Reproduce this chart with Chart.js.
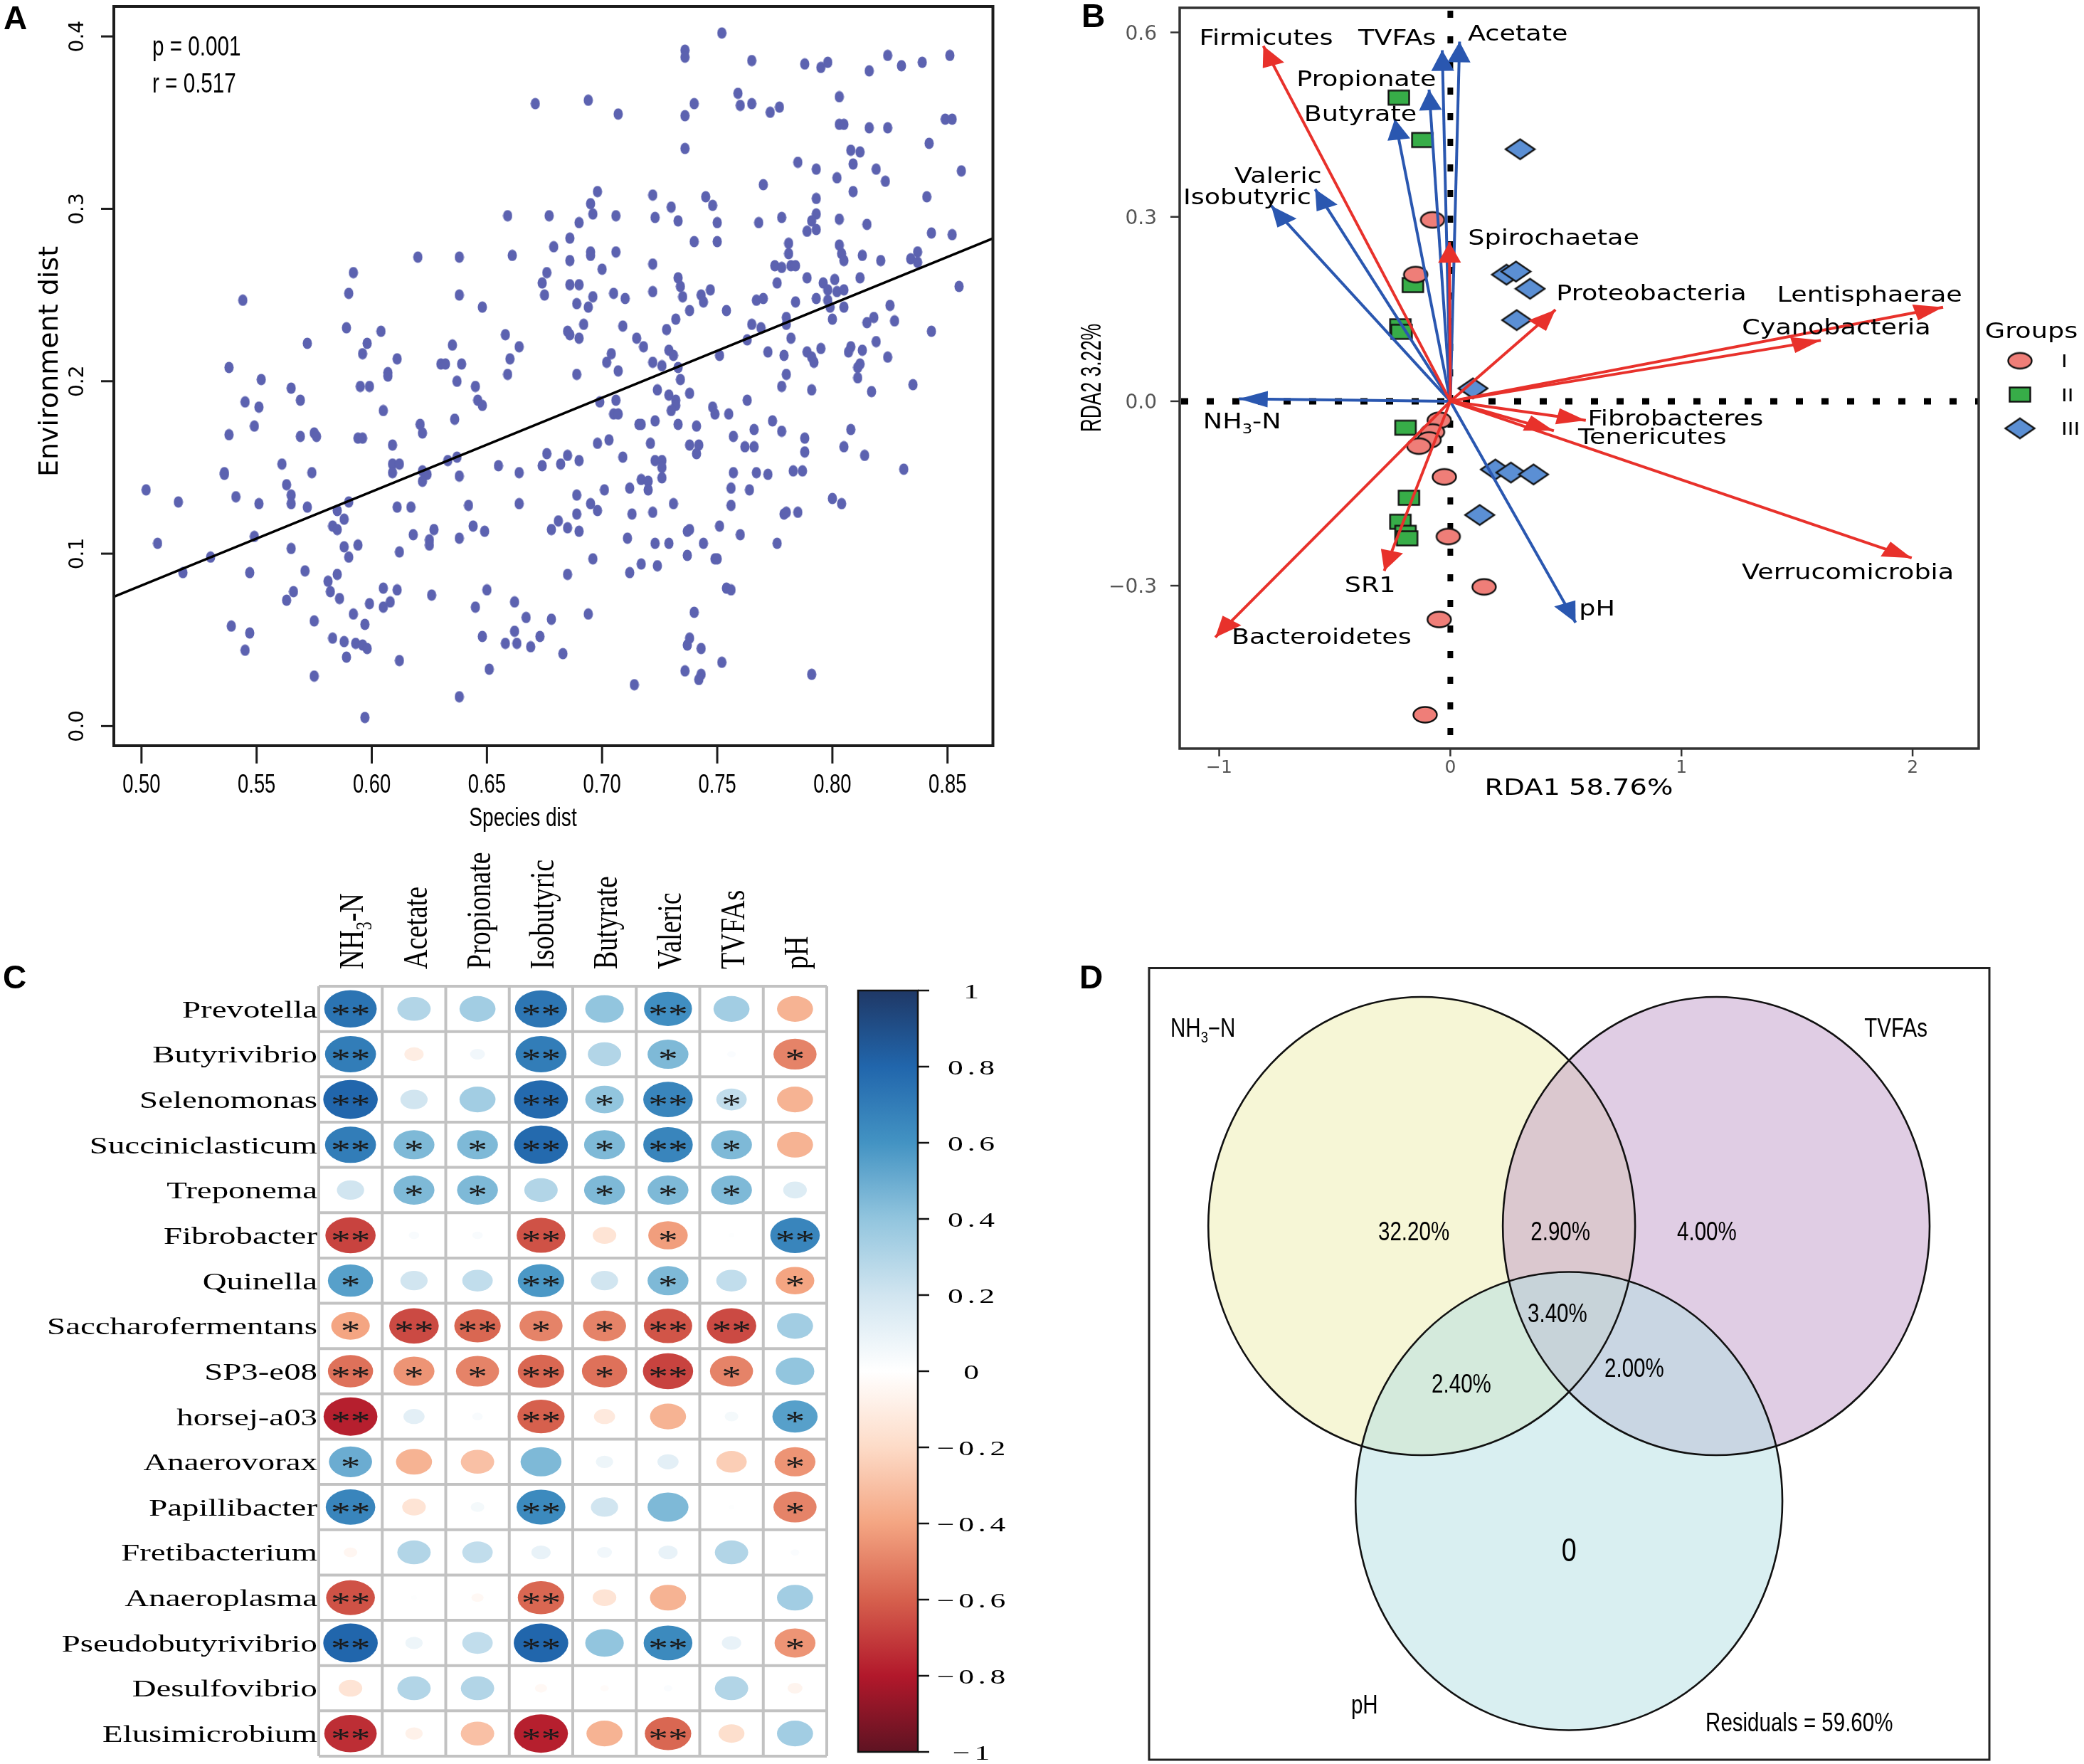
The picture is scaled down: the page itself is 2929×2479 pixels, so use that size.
<!DOCTYPE html>
<html>
<head>
<meta charset="utf-8">
<title>Species, environment and RDA panels</title>
<script src="https://cdn.jsdelivr.net/npm/chart.js@4.4.1/dist/chart.umd.min.js"></script>
<style>
  html, body { margin: 0; padding: 0; background: #fff; }
  #page { position: relative; width: 2929px; height: 2479px; overflow: hidden; background: #fff; }
  #page canvas { position: absolute; }
  .tag { position: absolute; font: bold 46px 'Liberation Sans', Arial, sans-serif; line-height: 46px; color: #000; }
</style>
</head>
<body>
<div id="page">
  <canvas id="panelA" width="1450" height="1190" style="left:0;top:0"></canvas>
  <canvas id="panelB" width="1479" height="1190" style="left:1450px;top:0"></canvas>
  <canvas id="panelC" width="1450" height="1289" style="left:0;top:1190px"></canvas>
  <canvas id="panelD" width="1479" height="1289" style="left:1450px;top:1190px"></canvas>
  <div class="tag" style="left:5px;top:2px">A</div>
  <div class="tag" style="left:1520px;top:-1px">B</div>
  <div class="tag" style="left:4px;top:1350px">C</div>
  <div class="tag" style="left:1517px;top:1350px">D</div>
</div>
<script>
// ---- panel A: species distance vs environment distance ----
const speciesDist = [
  0.671,0.659,0.661,0.620,0.638,0.592,0.590,0.638,0.544,0.648,0.589,0.604,0.658,0.572,0.598,0.635,0.664,0.596,0.611,0.660,
  0.538,0.630,0.632,0.639,0.607,0.607,0.659,0.552,0.637,
  0.752,0.736,0.736,0.765,0.788,0.795,0.798,0.816,0.824,0.830,0.839,0.851,
  0.694,0.707,0.759,0.760,0.765,0.736,0.740,0.773,0.777,0.803,0.803,0.805,0.816,0.824,0.849,0.852,
  0.736,0.842,0.808,0.812,0.785,0.793,0.809,0.819,0.802,0.823,0.856,
  0.770,0.698,0.722,0.745,0.695,0.696,0.677,0.706,0.730,0.748,0.723,0.733,0.750,0.768,0.778,0.793,0.793,0.791,0.789,0.793,
  0.803,0.809,0.815,0.841,0.843,0.852,0.690,
  0.686,0.679,0.695,0.695,0.706,0.686,0.700,0.722,0.740,0.750,0.781,0.781,0.775,0.778,0.782,0.784,0.803,0.804,0.805,0.813,
  0.821,0.834,0.837,0.837,
  0.676,0.674,0.675,0.686,0.690,0.696,0.705,0.710,0.689,0.694,0.722,0.733,0.734,0.735,0.743,0.744,0.747,0.754,0.738,0.767,
  0.770,0.776,0.784,0.789,0.793,0.796,0.801,0.798,0.802,0.805,0.798,0.799,0.805,0.812,0.825,0.855,
  0.685,0.686,0.690,0.692,0.709,0.715,0.718,0.728,0.732,0.729,0.731,0.704,0.702,0.707,0.722,0.726,0.733,0.751,0.763,0.765,
  0.769,0.772,0.779,0.780,0.780,0.782,0.789,0.791,0.792,0.795,0.800,0.808,0.807,0.813,0.815,0.818,0.819,0.824,0.827,0.843,
  0.812,0.811,0.811,0.689,0.734,0.780,
  0.724,0.729,0.738,0.732,0.732,0.730,0.733,0.741,0.748,0.749,0.755,0.763,0.778,0.791,0.817,0.835,0.699,0.706,0.705,0.707,
  0.716,0.717,0.723,0.774,0.778,0.766,0.808,0.757,0.788,0.788,0.762,0.766,0.805,0.814,0.698,0.703,0.721,0.709,0.723,0.726,
  0.726,0.738,0.742,0.741,0.676,0.685,0.682,0.690,0.674,0.831,0.757,0.767,0.772,0.783,0.787,0.726,0.717,0.720,0.720,0.712,
  0.701,0.756,0.764,0.689,0.695,0.698,0.689,0.731,0.722,0.713,0.756,0.800,0.804,0.779,0.780,0.785,0.681,0.678,0.685,0.690,
  0.711,0.723,0.729,0.738,0.737,0.751,0.744,0.760,0.776,0.696,0.717,0.724,0.737,0.749,0.750,0.685,0.712,0.754,0.756,0.694,
  0.678,0.740,0.673,0.738,0.737,0.743,0.683,0.752,0.736,0.743,0.742,0.714,0.791,
  0.565,0.595,0.599,0.645,0.545,0.551,0.569,0.605,0.636,0.646,0.648,0.549,0.538,0.569,0.575,0.576,0.594,0.596,0.609,0.621,
  0.622,0.637,0.633,0.609,0.612,0.609,0.622,0.624,0.622,0.638,0.561,0.574,0.655,0.664,0.536,0.536,0.563,0.565,0.565,0.502,
  0.516,0.541,0.551,0.572,0.585,0.590,0.588,0.611,0.617,0.642,0.664,0.583,0.585,0.618,0.627,0.625,0.625,0.644,0.649,0.638,
  0.594,0.588,0.590,0.612,0.549,0.530,0.565,0.507,0.518,0.547,0.571,0.585,0.581,0.582,0.586,0.566,0.563,0.605,0.611,0.608,
  0.605,0.599,0.626,0.650,0.645,0.662,0.592,0.597,0.575,0.539,0.547,0.648,0.662,0.658,0.663,0.667,0.669,0.583,0.588,0.593,
  0.596,0.598,0.545,0.589,0.612,0.651,0.575,0.638,0.597
];
const envDist = [
  0.361,0.296,0.273,0.272,0.272,0.263,0.251,0.250,0.247,0.243,0.231,0.229,0.227,0.222,0.222,0.221,0.220,0.216,0.213,0.213,
  0.208,0.210,0.210,0.210,0.205,0.203,0.204,0.201,0.200,
  0.402,0.392,0.388,0.386,0.384,0.382,0.385,0.380,0.389,0.383,0.385,0.389,
  0.363,0.355,0.367,0.360,0.361,0.354,0.361,0.356,0.359,0.365,0.349,0.349,0.347,0.347,0.352,0.352,
  0.335,0.338,0.334,0.333,0.327,0.323,0.326,0.323,0.318,0.316,0.322,
  0.314,0.310,0.308,0.307,0.303,0.297,0.296,0.296,0.301,0.302,0.295,0.293,0.292,0.292,0.295,0.306,0.297,0.293,0.287,0.288,
  0.294,0.310,0.291,0.307,0.286,0.285,0.292,
  0.283,0.278,0.275,0.273,0.275,0.270,0.265,0.268,0.281,0.281,0.280,0.274,0.267,0.266,0.267,0.267,0.279,0.274,0.270,0.273,
  0.270,0.271,0.275,0.269,
  0.263,0.257,0.250,0.256,0.256,0.249,0.251,0.248,0.245,0.243,0.252,0.260,0.255,0.249,0.250,0.246,0.253,0.241,0.241,0.247,
  0.248,0.257,0.246,0.260,0.248,0.257,0.259,0.253,0.252,0.253,0.247,0.243,0.243,0.260,0.244,0.255,
  0.229,0.227,0.225,0.233,0.232,0.225,0.220,0.230,0.236,0.218,0.215,0.216,0.211,0.206,0.211,0.209,0.208,0.215,0.224,0.233,
  0.231,0.217,0.215,0.237,0.233,0.225,0.217,0.214,0.211,0.219,0.236,0.220,0.217,0.218,0.234,0.237,0.223,0.214,0.235,0.229,
  0.210,0.208,0.202,0.204,0.201,0.204,
  0.195,0.192,0.193,0.189,0.186,0.183,0.175,0.174,0.185,0.181,0.181,0.189,0.197,0.195,0.194,0.198,0.188,0.189,0.181,0.181,
  0.175,0.175,0.177,0.177,0.171,0.172,0.172,0.168,0.167,0.159,0.162,0.162,0.162,0.157,0.164,0.166,0.164,0.156,0.154,0.154,
  0.150,0.163,0.163,0.158,0.158,0.157,0.152,0.154,0.151,0.149,0.147,0.147,0.146,0.148,0.148,0.144,0.143,0.142,0.137,0.138,
  0.137,0.138,0.137,0.134,0.129,0.125,0.123,0.129,0.124,0.123,0.128,0.132,0.129,0.123,0.124,0.124,0.119,0.114,0.115,0.113,
  0.109,0.106,0.106,0.114,0.113,0.116,0.106,0.111,0.106,0.097,0.094,0.093,0.099,0.097,0.097,0.088,0.089,0.080,0.079,0.065,
  0.062,0.066,0.052,0.051,0.047,0.045,0.042,0.037,0.032,0.030,0.027,0.024,0.030,
  0.196,0.197,0.197,0.197,0.188,0.185,0.189,0.183,0.178,0.189,0.186,0.174,0.169,0.168,0.170,0.168,0.167,0.167,0.163,0.175,
  0.170,0.156,0.154,0.152,0.152,0.147,0.148,0.146,0.142,0.145,0.152,0.147,0.151,0.147,0.147,0.146,0.140,0.134,0.129,0.137,
  0.130,0.133,0.129,0.127,0.125,0.130,0.120,0.127,0.127,0.128,0.129,0.116,0.114,0.111,0.114,0.108,0.105,0.116,0.113,0.109,
  0.105,0.104,0.098,0.101,0.110,0.098,0.103,0.106,0.089,0.089,0.090,0.088,0.084,0.078,0.074,0.078,0.073,0.080,0.079,0.072,
  0.069,0.071,0.076,0.079,0.069,0.072,0.065,0.059,0.061,0.058,0.054,0.052,0.055,0.048,0.048,0.063,0.046,0.051,0.049,0.048,
  0.047,0.045,0.044,0.040,0.038,0.033,0.029,0.017,0.005
];
const fitX = [0.488, 0.870];
const fitY = [0.075, 0.283];
const speciesTicks = [0.50, 0.55, 0.60, 0.65, 0.70, 0.75, 0.80, 0.85];
const envTicks = [0.0, 0.1, 0.2, 0.3, 0.4];
const mantelP = '0.001';
const mantelR = '0.517';

// ---- panel B: RDA biplot ----
const groupI_RDA1 = [-0.077, -0.150, -0.048, -0.077, -0.092, -0.136, -0.026, -0.009, 0.146, -0.048, -0.109];
const groupI_RDA2 = [0.295, 0.206, -0.031, -0.050, -0.063, -0.073, -0.123, -0.220, -0.302, -0.355, -0.510];
const groupII_RDA1 = [-0.223, -0.121, -0.162, -0.216, -0.211, -0.194, -0.179, -0.216, -0.194, -0.187];
const groupII_RDA2 = [0.494, 0.425, 0.189, 0.122, 0.113, -0.043, -0.157, -0.196, -0.214, -0.223];
const groupIII_RDA1 = [0.302, 0.243, 0.284, 0.345, 0.287, 0.098, 0.195, 0.262, 0.360, 0.127];
const groupIII_RDA2 = [0.410, 0.206, 0.211, 0.183, 0.132, 0.021, -0.111, -0.116, -0.119, -0.185];
const envNames = ['NH3-N', 'Acetate', 'Propionate', 'Isobutyric', 'Butyrate', 'Valeric', 'TVFAs', 'pH'];
const envRDA1 = [-0.915, 0.040, -0.092, -0.775, -0.240, -0.585, -0.035, 0.542];
const envRDA2 = [0.004, 0.585, 0.507, 0.318, 0.459, 0.345, 0.571, -0.360];
const phylaNames = ['Firmicutes', 'Spirochaetae', 'Proteobacteria', 'Lentisphaerae', 'Cyanobacteria',
  'Fibrobacteres', 'Tenericutes', 'Verrucomicrobia', 'SR1', 'Bacteroidetes'];
const phylaRDA1 = [-0.809, -0.004, 0.455, 2.132, 1.603, 0.586, 0.448, 1.996, -0.286, -1.017];
const phylaRDA2 = [0.578, 0.259, 0.149, 0.153, 0.099, -0.031, -0.048, -0.255, -0.276, -0.384];
const rda1Ticks = [-1, 0, 1, 2];
const rda2Ticks = [0.6, 0.3, 0.0, -0.3];
const groupNames = ['I', 'II', 'III'];

// ---- panel C: correlation matrix ----
const taxa = ['Prevotella', 'Butyrivibrio', 'Selenomonas', 'Succiniclasticum', 'Treponema', 'Fibrobacter',
  'Quinella', 'Saccharofermentans', 'SP3-e08', 'horsej-a03', 'Anaerovorax', 'Papillibacter',
  'Fretibacterium', 'Anaeroplasma', 'Pseudobutyrivibrio', 'Desulfovibrio', 'Elusimicrobium'];
const envVars = ['NH3-N', 'Acetate', 'Propionate', 'Isobutyric', 'Butyrate', 'Valeric', 'TVFAs', 'pH'];
const corrByTaxon = [
  [0.74, 0.30, 0.35, 0.73, 0.40, 0.62, 0.35, -0.35],
  [0.70, -0.10, 0.06, 0.70, 0.30, 0.45, 0.02, -0.50],
  [0.80, 0.20, 0.35, 0.78, 0.40, 0.66, 0.25, -0.35],
  [0.70, 0.45, 0.45, 0.78, 0.45, 0.66, 0.45, -0.35],
  [0.20, 0.45, 0.45, 0.30, 0.45, 0.45, 0.45, 0.15],
  [-0.68, 0.03, 0.03, -0.64, -0.15, -0.42, 0.01, 0.66],
  [0.55, 0.20, 0.25, 0.58, 0.20, 0.45, 0.25, -0.40],
  [-0.40, -0.66, -0.58, -0.50, -0.50, -0.63, -0.66, 0.35],
  [-0.55, -0.45, -0.50, -0.58, -0.55, -0.68, -0.50, 0.40],
  [-0.78, 0.12, 0.03, -0.60, -0.12, -0.35, 0.05, 0.55],
  [0.50, -0.35, -0.30, 0.45, 0.08, 0.12, -0.25, -0.45],
  [0.66, -0.15, 0.05, 0.64, 0.20, 0.45, 0.01, -0.50],
  [-0.05, 0.30, 0.25, 0.10, 0.06, 0.10, 0.30, 0.02],
  [-0.64, 0.01, -0.04, -0.58, -0.15, -0.35, 0.00, 0.35],
  [0.80, 0.08, 0.25, 0.80, 0.40, 0.64, 0.10, -0.45],
  [-0.15, 0.30, 0.30, -0.04, -0.02, 0.02, 0.30, -0.06],
  [-0.74, -0.08, -0.30, -0.78, -0.35, -0.58, -0.18, 0.35]
];
const starsByTaxon = [
  ['**', '', '', '**', '', '**', '', ''],
  ['**', '', '', '**', '', '*', '', '*'],
  ['**', '', '', '**', '*', '**', '*', ''],
  ['**', '*', '*', '**', '*', '**', '*', ''],
  ['', '*', '*', '', '*', '*', '*', ''],
  ['**', '', '', '**', '', '*', '', '**'],
  ['*', '', '', '**', '', '*', '', '*'],
  ['*', '**', '**', '*', '*', '**', '**', ''],
  ['**', '*', '*', '**', '*', '**', '*', ''],
  ['**', '', '', '**', '', '', '', '*'],
  ['*', '', '', '', '', '', '', '*'],
  ['**', '', '', '**', '', '', '', '*'],
  ['', '', '', '', '', '', '', ''],
  ['**', '', '', '**', '', '', '', ''],
  ['**', '', '', '**', '', '**', '', '*'],
  ['', '', '', '', '', '', '', ''],
  ['**', '', '', '**', '', '**', '', '']
];
const colorbarTicks = [1, 0.8, 0.6, 0.4, 0.2, 0, -0.2, -0.4, -0.6, -0.8, -1];

// ---- panel D: variation partitioning ----
const vennSets = ['NH3-N', 'TVFAs', 'pH'];
const vennShares = ['32.20%', '2.90%', '4.00%', '3.40%', '2.40%', '2.00%', '0'];
const residualShare = '59.60%';
const vennCircleX = [-0.69, 0.69, 0];
const vennCircleY = [0.6, 0.6, -0.6];
const vennCircleR = [1, 1, 1];

// ---------------- drawing helpers ----------------
const SANS = "'Liberation Sans', Arial, sans-serif";
const WIDE = "'DejaVu Sans', Verdana, sans-serif";
const SERIF = "'Liberation Serif', 'Times New Roman', serif";

function rich(s) {
  return s === 'NH3-N' ? [['NH', false], ['3', true], ['-N', false]] : s;
}

// y is the middle of the capital letters
function label(ctx, content, x, y, o) {
  const parts = typeof content === 'string' ? [[content, false]] : content;
  ctx.save();
  ctx.translate(x, y);
  if (o.rot) ctx.rotate(o.rot);
  ctx.scale(o.sx || 1, o.sy || 1);
  ctx.fillStyle = o.color || '#000';
  ctx.textAlign = 'left';
  ctx.textBaseline = 'alphabetic';
  ctx.letterSpacing = (o.spacing || 0) + 'px';
  const fontFor = sub => (o.weight || 'normal') + ' ' + (sub ? o.size * 0.62 : o.size) + 'px ' + o.family;
  let w = 0;
  for (const [t, sub] of parts) { ctx.font = fontFor(sub); w += ctx.measureText(t).width; }
  let cx = o.align === 'left' ? 0 : o.align === 'right' ? -w : -w / 2;
  for (const [t, sub] of parts) {
    ctx.font = fontFor(sub);
    ctx.fillText(t, cx, o.size * 0.36 + (sub ? o.size * 0.24 : 0));
    cx += ctx.measureText(t).width;
  }
  ctx.restore();
}

function markCanvas(w, h, draw) {
  const c = document.createElement('canvas');
  c.width = w; c.height = h;
  draw(c.getContext('2d'), w, h);
  return c;
}

function baseOptions(pad, xs, ys, extraScales) {
  return {
    responsive: false, animation: false, devicePixelRatio: 1, events: [],
    layout: { padding: pad },
    plugins: { legend: { display: false }, tooltip: { enabled: false } },
    scales: Object.assign({
      x: Object.assign({ type: 'linear', display: false }, xs),
      y: Object.assign({ type: 'linear', display: false }, ys)
    }, extraScales || {})
  };
}

// ---------------- panel A ----------------
const dotA = markCanvas(14, 17, (g, w, h) => {
  g.fillStyle = '#5c62b0';
  g.beginPath(); g.ellipse(w / 2, h / 2, 6.5, 8, 0, 0, Math.PI * 2); g.fill();
});

const axesA = {
  id: 'axesA',
  afterDraw(chart) {
    const { ctx, chartArea: a, scales: { x, y } } = chart;
    ctx.save();
    ctx.strokeStyle = '#1c1c1c';
    ctx.lineWidth = 4;
    ctx.strokeRect(a.left, a.top, a.right - a.left, a.bottom - a.top);
    ctx.lineWidth = 3;
    speciesTicks.forEach(v => {
      const px = x.getPixelForValue(v);
      ctx.beginPath(); ctx.moveTo(px, a.bottom + 2); ctx.lineTo(px, a.bottom + 25); ctx.stroke();
      label(ctx, v.toFixed(2), px, 1101, { size: 36, family: SANS, sx: 0.76 });
    });
    envTicks.forEach(v => {
      const py = y.getPixelForValue(v);
      ctx.beginPath(); ctx.moveTo(a.left - 18, py); ctx.lineTo(a.left - 2, py); ctx.stroke();
      label(ctx, v.toFixed(1), 107, py, { size: 28, family: WIDE, rot: -Math.PI / 2 });
    });
    ctx.restore();
    label(ctx, 'Species dist', 735, 1148, { size: 36, family: SANS, sx: 0.78 });
    label(ctx, 'Environment dist', 67, 508, { size: 38, family: WIDE, rot: -Math.PI / 2 });
    label(ctx, 'p = ' + mantelP, 214, 64, { size: 38, family: SANS, sx: 0.78, align: 'left' });
    label(ctx, 'r = ' + mantelR, 214, 116, { size: 38, family: SANS, sx: 0.78, align: 'left' });
  }
};

new Chart(document.getElementById('panelA'), {
  type: 'scatter',
  data: {
    datasets: [
      {
        type: 'line',
        data: fitX.map((v, i) => ({ x: v, y: fitY[i] })),
        borderColor: '#000', borderWidth: 3.5, pointRadius: 0, order: 0
      },
      {
        data: speciesDist.map((v, i) => ({ x: v, y: envDist[i] })),
        pointStyle: dotA, pointRadius: 7, order: 1
      }
    ]
  },
  options: baseOptions({ left: 160, right: 54.5, top: 9, bottom: 142 },
    { min: 0.488, max: 0.8697 }, { min: -0.0114, max: 0.4174 }),
  plugins: [axesA]
});

// ---------------- panel B ----------------
const RED = '#e8312b', BLUE = '#2a57b0';
const markI = markCanvas(38, 27, (g, w, h) => {
  g.beginPath(); g.ellipse(w / 2, h / 2, w / 2 - 2.5, h / 2 - 2.5, 0, 0, Math.PI * 2);
  g.fillStyle = '#ef7e78'; g.fill(); g.lineWidth = 2.4; g.strokeStyle = '#111'; g.stroke();
});
const markII = markCanvas(34, 25, (g, w, h) => {
  g.fillStyle = '#37ad48'; g.fillRect(2.5, 2.5, w - 5, h - 5);
  g.lineWidth = 2.4; g.strokeStyle = '#111'; g.strokeRect(2.5, 2.5, w - 5, h - 5);
});
const markIII = markCanvas(46, 33, (g, w, h) => {
  g.beginPath(); g.moveTo(w / 2, 2.5); g.lineTo(w - 2.5, h / 2); g.lineTo(w / 2, h - 2.5); g.lineTo(2.5, h / 2); g.closePath();
  g.fillStyle = '#5b8fd4'; g.fill(); g.lineWidth = 2.4; g.strokeStyle = '#111'; g.stroke();
});
const groupMarks = [markI, markII, markIII];

const rdaLabelAt = {
  'Firmicutes': [-0.797, 0.593], 'TVFAs': [-0.230, 0.593], 'Acetate': [0.292, 0.600],
  'Propionate': [-0.363, 0.526], 'Butyrate': [-0.389, 0.469], 'Valeric': [-0.745, 0.368],
  'Isobutyric': [-0.879, 0.333], 'Spirochaetae': [0.447, 0.267], 'Proteobacteria': [0.870, 0.177],
  'Lentisphaerae': [1.814, 0.175], 'Cyanobacteria': [1.670, 0.122], 'Fibrobacteres': [0.974, -0.027],
  'Tenericutes': [0.874, -0.057], 'Verrucomicrobia': [1.720, -0.277], 'pH': [0.635, -0.336],
  'SR1': [-0.347, -0.297], 'Bacteroidetes': [-0.557, -0.382], 'NH3-N': [-0.901, -0.031]
};

function arrowSet(names, xs, ys, color, order) {
  return names.map((n, i) => ({
    label: n,
    data: [{ x: 0, y: 0 }, { x: xs[i], y: ys[i] }],
    showLine: true, borderColor: color, borderWidth: 4, pointRadius: 0,
    arrowColor: color, order: order
  }));
}

const rdaDecor = {
  id: 'rdaDecor',
  beforeDatasetsDraw(chart) {
    const { ctx, chartArea: a, scales: { x, y } } = chart;
    const x0 = x.getPixelForValue(0), y0 = y.getPixelForValue(0);
    ctx.save();
    ctx.strokeStyle = '#000';
    ctx.lineWidth = 9;
    ctx.setLineDash([10, 26]);
    ctx.beginPath(); ctx.moveTo(a.left + 2, y0); ctx.lineTo(a.right, y0); ctx.stroke();
    ctx.lineWidth = 8;
    ctx.beginPath(); ctx.moveTo(x0, a.top + 4); ctx.lineTo(x0, a.bottom); ctx.stroke();
    ctx.restore();
  },
  afterDatasetsDraw(chart) {
    const ctx = chart.ctx;
    const STR = 1.4, L = 29, W = 11.5;
    chart.data.datasets.forEach((ds, i) => {
      if (!ds.arrowColor) return;
      const pts = chart.getDatasetMeta(i).data;
      const p0 = pts[0], p1 = pts[pts.length - 1];
      const dx = (p1.x - p0.x) / STR, dy = p1.y - p0.y;
      const len = Math.hypot(dx, dy);
      const ux = dx / len, uy = dy / len;
      const bx = -ux * L, by = -uy * L;
      const tri = [[0, 0], [bx - uy * W, by + ux * W], [bx + uy * W, by - ux * W]];
      ctx.beginPath();
      tri.forEach(([qx, qy], k) => {
        const X = p1.x + qx * STR, Y = p1.y + qy;
        if (k) ctx.lineTo(X, Y); else ctx.moveTo(X, Y);
      });
      ctx.closePath();
      ctx.fillStyle = ds.arrowColor;
      ctx.fill();
    });
  },
  afterDraw(chart) {
    const { ctx, chartArea: a, scales: { x, y } } = chart;
    ctx.save();
    ctx.strokeStyle = '#333';
    ctx.lineWidth = 2.5;
    rda1Ticks.forEach(v => {
      const px = x.getPixelForValue(v);
      ctx.beginPath(); ctx.moveTo(px, a.bottom); ctx.lineTo(px, a.bottom + 11); ctx.stroke();
      label(ctx, v < 0 ? '\u2212' + Math.abs(v) : String(v), px, 1077, { size: 25, family: WIDE, color: '#555' });
    });
    rda2Ticks.forEach(v => {
      const py = y.getPixelForValue(v);
      ctx.beginPath(); ctx.moveTo(a.left - 13, py); ctx.lineTo(a.left, py); ctx.stroke();
      const t = (v < 0 ? '\u2212' : '') + Math.abs(v).toFixed(1);
      label(ctx, t, 176, py, { size: 28, family: WIDE, color: '#555', align: 'right' });
    });
    ctx.strokeStyle = '#333';
    ctx.lineWidth = 3.5;
    ctx.strokeRect(a.left, a.top, a.right - a.left, a.bottom - a.top);
    ctx.restore();

    Object.keys(rdaLabelAt).forEach(n => {
      const [lx, ly] = rdaLabelAt[n];
      label(ctx, rich(n), x.getPixelForValue(lx), y.getPixelForValue(ly), { size: 31, family: WIDE, sx: 1.18 });
    });

    label(ctx, 'RDA1 58.76%', 769, 1105, { size: 32, family: WIDE, sx: 1.2 });
    label(ctx, 'RDA2 3.22%', 83, 531, { size: 40, family: SANS, sx: 0.66, rot: -Math.PI / 2 });

    label(ctx, 'Groups', 1405, 464, { size: 31, family: WIDE, sx: 1.18 });
    groupNames.forEach((g, i) => {
      const cy = 507 + i * 47.5;
      const m = groupMarks[i];
      ctx.drawImage(m, 1389 - m.width / 2, cy - m.height / 2);
      label(ctx, g, 1447, cy, { size: 25, family: WIDE, sx: 1.18, align: 'left' });
    });
  }
};

new Chart(document.getElementById('panelB'), {
  type: 'scatter',
  data: {
    datasets: [
      ...arrowSet(phylaNames, phylaRDA1, phylaRDA2, RED, 0),
      ...arrowSet(envNames, envRDA1, envRDA2, BLUE, 1),
      { label: 'I', data: groupI_RDA1.map((v, i) => ({ x: v, y: groupI_RDA2[i] })), pointStyle: markI, pointRadius: 10, order: 2 },
      { label: 'II', data: groupII_RDA1.map((v, i) => ({ x: v, y: groupII_RDA2[i] })), pointStyle: markII, pointRadius: 10, order: 2 },
      { label: 'III', data: groupIII_RDA1.map((v, i) => ({ x: v, y: groupIII_RDA2[i] })), pointStyle: markIII, pointRadius: 10, order: 2 }
    ]
  },
  options: baseOptions({ left: 208, right: 148, top: 11, bottom: 138 },
    { min: -1.171, max: 2.286 }, { min: -0.565, max: 0.640 }),
  plugins: [rdaDecor]
});

// ---------------- panel C ----------------
const RDBU = ['#5e1322', '#B2182B', '#D6604D', '#F4A582', '#FDDBC7', '#FFFFFF',
  '#D1E5F0', '#92C5DE', '#4393C3', '#2166AC', '#1f3866'];
function hexRgb(h) { return [1, 3, 5].map(k => parseInt(h.substr(k, 2), 16)); }
function corrColor(v) {
  const t = Math.max(0, Math.min(10, (v + 1) / 2 * 10));
  const i = Math.min(9, Math.floor(t)), f = t - i;
  const a = hexRgb(RDBU[i]), b = hexRgb(RDBU[i + 1]);
  return 'rgb(' + a.map((c, k) => Math.round(c + (b[k] - c) * f)).join(',') + ')';
}
const corrCells = [];
taxa.forEach((t, i) => envVars.forEach((e, j) => corrCells.push({ x: j, y: i, v: corrByTaxon[i][j], s: starsByTaxon[i][j] })));

const corrDecor = {
  id: 'corrDecor',
  beforeDatasetsDraw(chart) {
    const { ctx, scales: { x, y } } = chart;
    ctx.save();
    ctx.strokeStyle = '#c2c2c2';
    ctx.lineWidth = 4;
    const top = y.getPixelForValue(-0.5), bot = y.getPixelForValue(taxa.length - 0.5);
    const lft = x.getPixelForValue(-0.5), rgt = x.getPixelForValue(envVars.length - 0.5);
    for (let j = 0; j <= envVars.length; j++) {
      const px = x.getPixelForValue(j - 0.5);
      ctx.beginPath(); ctx.moveTo(px, top); ctx.lineTo(px, bot); ctx.stroke();
    }
    for (let i = 0; i <= taxa.length; i++) {
      const py = y.getPixelForValue(i - 0.5);
      ctx.beginPath(); ctx.moveTo(lft, py); ctx.lineTo(rgt, py); ctx.stroke();
    }
    ctx.restore();
  },
  afterDatasetsDraw(chart) {
    const { ctx, scales: { x, y } } = chart;
    const cw = Math.abs(x.getPixelForValue(1) - x.getPixelForValue(0));
    const ch = Math.abs(y.getPixelForValue(1) - y.getPixelForValue(0));
    chart.getDatasetMeta(0).data.forEach((el, k) => {
      const c = corrCells[k];
      const s = 0.48 * Math.sqrt(Math.abs(c.v));
      if (s * cw > 0.5) {
        ctx.fillStyle = corrColor(c.v);
        ctx.beginPath(); ctx.ellipse(el.x, el.y, s * cw, s * ch, 0, 0, Math.PI * 2); ctx.fill();
      }
      if (c.s) label(ctx, c.s, el.x, el.y + 5, { size: 41, family: SERIF, sx: 1.35, color: '#1a1a1a' });
    });
  },
  afterDraw(chart) {
    const { ctx, scales: { x, y, cb } } = chart;
    taxa.forEach((t, i) => label(ctx, t, 446, y.getPixelForValue(i), { size: 33, family: SERIF, sx: 1.42, align: 'right' }));
    envVars.forEach((e, j) => label(ctx, rich(e), x.getPixelForValue(j), 172,
      { size: 38, family: SERIF, rot: -Math.PI / 2, align: 'left', sy: 1.3 }));

    const top = cb.getPixelForValue(1), bot = cb.getPixelForValue(-1);
    const L = 1206, R = 1290;
    const grad = ctx.createLinearGradient(0, top, 0, bot);
    RDBU.forEach((c, k) => grad.addColorStop(k / 10, RDBU[10 - k]));
    ctx.save();
    ctx.fillStyle = grad;
    ctx.fillRect(L, top, R - L, bot - top);
    ctx.strokeStyle = '#111';
    ctx.lineWidth = 2.5;
    ctx.strokeRect(L, top, R - L, bot - top);
    colorbarTicks.forEach(v => {
      const py = cb.getPixelForValue(v);
      ctx.beginPath(); ctx.moveTo(R, py); ctx.lineTo(R + 16, py); ctx.stroke();
      const t = v === 0 ? '0' : (v < 0 ? '\u2212' : '') + (Math.abs(v) === 1 ? '1' : Math.abs(v).toFixed(1));
      label(ctx, t, 1368, py, { size: 30, family: SERIF, sx: 1.45, spacing: 4 });
    });
    ctx.restore();
  }
};

new Chart(document.getElementById('panelC'), {
  type: 'scatter',
  data: { datasets: [{ data: corrCells, pointRadius: 0 }] },
  options: baseOptions({ left: 448, right: 288, top: 196, bottom: 11 },
    { min: -0.5, max: envVars.length - 0.5 },
    { min: -0.5, max: taxa.length - 0.5, reverse: true },
    { cb: { type: 'linear', axis: 'y', display: false, min: -1.0112, max: 1.0112 } }),
  plugins: [corrDecor]
});

// ---------------- panel D ----------------
const vennFill = ['rgba(237,237,173,0.5)', 'rgba(193,155,201,0.5)', 'rgba(179,223,227,0.5)'];
const vennShareAt = [[-0.727, 0.579], [-0.04, 0.579], [0.646, 0.579], [-0.054, 0.222], [-0.504, -0.085], [0.306, -0.017], [0.0, -0.81]];
const vennNameAt = [[-1.715, 1.467], [1.532, 1.467], [-0.958, -1.488]];
const residualAt = [1.079, -1.564];

const vennDecor = {
  id: 'vennDecor',
  beforeDatasetsDraw(chart) {
    const { ctx, scales: { x, y } } = chart;
    const els = chart.getDatasetMeta(0).data;
    const shapes = els.map((el, i) => ({
      cx: el.x, cy: el.y,
      rx: x.getPixelForValue(vennCircleX[i] + vennCircleR[i]) - el.x,
      ry: el.y - y.getPixelForValue(vennCircleY[i] + vennCircleR[i])
    }));
    ctx.save();
    shapes.forEach((s, i) => {
      ctx.beginPath(); ctx.ellipse(s.cx, s.cy, s.rx, s.ry, 0, 0, Math.PI * 2);
      ctx.fillStyle = vennFill[i]; ctx.fill();
    });
    ctx.strokeStyle = '#111';
    ctx.lineWidth = 2.6;
    shapes.forEach(s => {
      ctx.beginPath(); ctx.ellipse(s.cx, s.cy, s.rx, s.ry, 0, 0, Math.PI * 2); ctx.stroke();
    });
    ctx.restore();
  },
  afterDraw(chart) {
    const { ctx, chartArea: a, scales: { x, y } } = chart;
    ctx.save();
    ctx.strokeStyle = '#222';
    ctx.lineWidth = 3;
    ctx.strokeRect(a.left, a.top, a.right - a.left, a.bottom - a.top);
    ctx.restore();
    vennShares.forEach((t, k) => {
      const [px, py] = vennShareAt[k];
      const big = t === '0';
      label(ctx, t, x.getPixelForValue(px), y.getPixelForValue(py), { size: big ? 46 : 36, family: SANS, sx: 0.82 });
    });
    vennSets.forEach((n, k) => {
      const [px, py] = vennNameAt[k];
      label(ctx, n === 'NH3-N' ? [['NH', false], ['3', true], ['\u2212N', false]] : n,
        x.getPixelForValue(px), y.getPixelForValue(py), { size: 36, family: SANS, sx: 0.82 });
    });
    label(ctx, 'Residuals = ' + residualShare, x.getPixelForValue(residualAt[0]), y.getPixelForValue(residualAt[1]),
      { size: 36, family: SANS, sx: 0.82 });
  }
};

new Chart(document.getElementById('panelD'), {
  type: 'scatter',
  data: {
    datasets: [{
      data: vennCircleX.map((v, i) => ({ x: v, y: vennCircleY[i] })),
      pointRadius: 0
    }]
  },
  options: baseOptions({ left: 165, right: 133, top: 170.5, bottom: 6 },
    { min: -1.9675, max: 1.97 }, { min: -1.729, max: 1.726 }),
  plugins: [vennDecor]
});
</script>
</body>
</html>
